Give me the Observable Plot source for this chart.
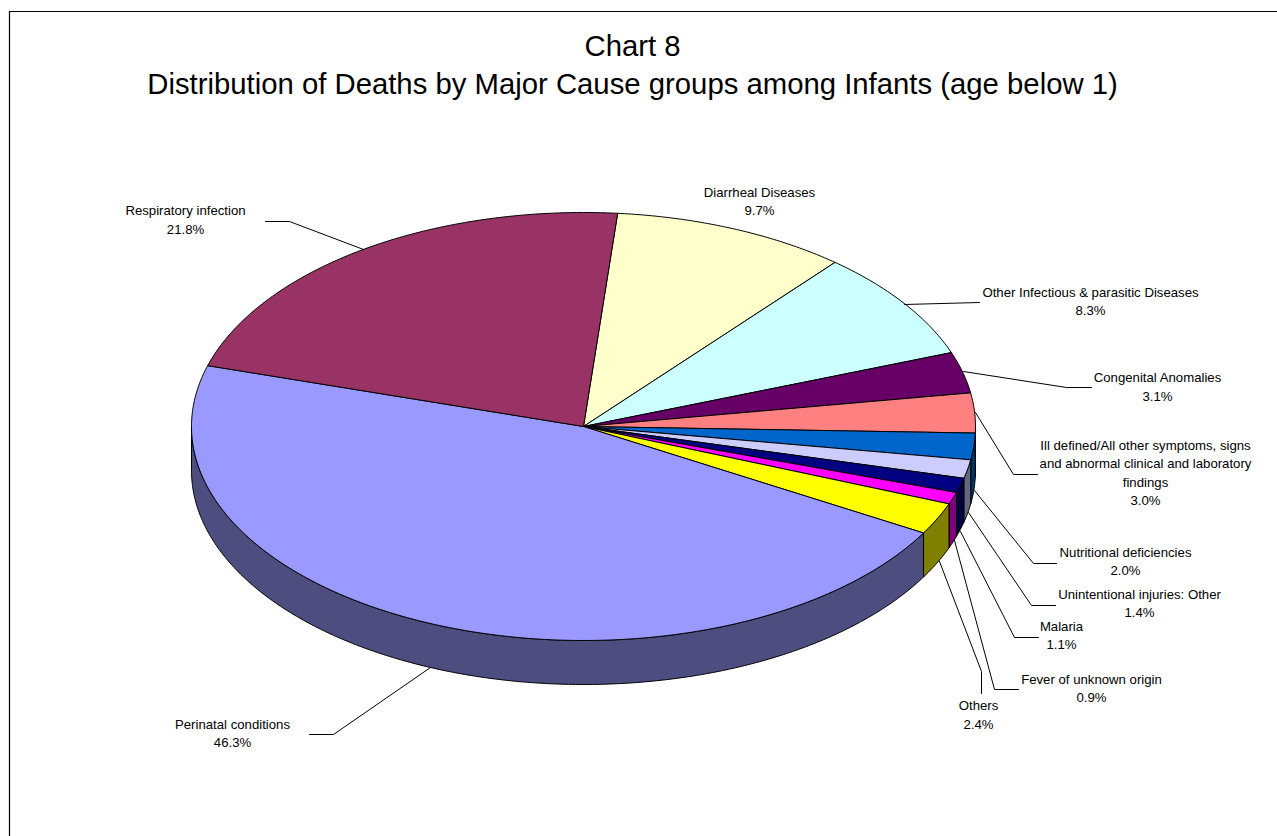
<!DOCTYPE html>
<html>
<head>
<meta charset="utf-8">
<script src="https://cdn.jsdelivr.net/npm/d3@7"></script>
<script src="https://cdn.jsdelivr.net/npm/@observablehq/plot@0.6"></script>
<style>
html,body{margin:0;padding:0;background:#fff;overflow:hidden}
svg{display:block}
</style>
</head>
<body>
<div id="chart"></div>
<script>
// Data
const causes = ["Diarrheal Diseases","Other Infectious & parasitic Diseases","Congenital Anomalies","Ill defined/All other symptoms, signs\nand abnormal clinical and laboratory\nfindings","Nutritional deficiencies","Unintentional injuries: Other","Malaria","Fever of unknown origin","Others","Perinatal conditions","Respiratory infection"];
const shares = [9.7,8.3,3.1,3.0,2.0,1.4,1.1,0.9,2.4,46.3,21.8];
const colors = ["#FFFFCC","#CCFFFF","#660066","#FF8080","#0066CC","#CCCCFF","#000080","#FF00FF","#FFFF00","#9999FF","#993366"];
const titleLines = ["Chart 8","Distribution of Deaths by Major Cause groups among Infants (age below 1)"];

// Layout of the pie, in the coordinate system of the x and y scales
const W = 1277, H = 836;
const pie = {cx:583, cy:426, rx:392, ry:214, depth:44, startDeg:5};
const labelX = [759,1090,1157,1145,1125,1139,1061,1091,978,232,185];
const labelY = [199.5,299.5,385,471,559.5,601.5,633.5,686.5,713,731.5,218];
const leaders = [
  [],
  [[904,304],[979,302]],
  [[963,371],[1066,387],[1091,387]],
  [[975,412],[1013,474],[1037,474]],
  [[974,490],[1033,563],[1056,563]],
  [[968,512],[1031,605],[1055,605]],
  [[960,531],[1014,637],[1038,637]],
  [[954,540],[994,689],[1018,689]],
  [[939,561],[981,671],[981,693]],
  [[430,667],[333,734],[309,734]],
  [[363,249],[289,221],[265,221]]
];

const rad = d => d * Math.PI / 180;
const rim = (deg, drop = 0) => [pie.cx + pie.rx * Math.sin(rad(deg)), pie.cy - pie.ry * Math.cos(rad(deg)) + drop];
const arc = (a0, a1, drop = 0) => {
  const n = Math.max(1, Math.ceil((a1 - a0) * 2));
  return d3.range(n + 1).map(i => rim(a0 + (a1 - a0) * i / n, drop));
};

// Slice angles follow the values
let cum = 0;
const slices = shares.map((v, i) => {
  const a0 = pie.startDeg + cum * 3.6; cum += v;
  return {i, a0, a1: pie.startDeg + cum * 3.6};
});

const tops = slices.flatMap(s => {
  const pts = [[pie.cx, pie.cy], ...arc(s.a0, s.a1), [pie.cx, pie.cy]];
  return pts.map(([x, y]) => ({x, y, id: s.i, fill: colors[s.i]}));
});
const sideFill = c => { const r = d3.rgb(c); return d3.rgb(Math.round(r.r/2), Math.round(r.g/2), Math.round(r.b/2)).formatHex(); };
const sides = slices.flatMap(s => {
  const a0 = Math.max(s.a0, 90), a1 = Math.min(s.a1, 270);
  if (a1 <= a0) return [];
  const up = arc(a0, a1), down = arc(a0, a1, pie.depth).reverse();
  return [...up, ...down, up[0]].map(([x, y]) => ({x, y, id: s.i, fill: sideFill(colors[s.i])}));
});
const leaderPts = leaders.flatMap((p, i) => p.map(([x, y]) => ({x, y, id: i})));
const labels = causes.map((c, i) => ({x: labelX[i], y: labelY[i], text: `${c}\n${shares[i].toFixed(1)}%`}));

const font = "'Liberation Sans', Arial, sans-serif";
const chart = Plot.plot({
  width: W, height: H,
  margin: 0,
  x: {domain: [0, W], range: [0, W], axis: null},
  y: {domain: [0, H], range: [0, H], axis: null},
  color: {type: "identity"},
  style: {fontFamily: font, background: "#fff", color: "#000"},
  marks: [
    Plot.ruleX([9], {y1: 11, y2: H, stroke: "#000", strokeWidth: 1.2}),
    Plot.ruleY([11], {x1: 9, x2: W, stroke: "#000", strokeWidth: 1.2}),
    Plot.line(sides, {x: "x", y: "y", z: "id", fill: "fill", stroke: "#000", strokeWidth: 1, curve: "linear"}),
    Plot.line(tops, {x: "x", y: "y", z: "id", fill: "fill", stroke: "#000", strokeWidth: 1, curve: "linear"}),
    Plot.line(leaderPts, {x: "x", y: "y", z: "id", stroke: "#000", strokeWidth: 1, curve: "linear"}),
    Plot.text(labels, {x: "x", y: "y", text: "text", fontSize: 13.2, lineHeight: 1.4, textAnchor: "middle", lineAnchor: "middle", fill: "#000"}),
    Plot.text(titleLines.map((t, i) => ({t, i})), {x: () => 632, y: d => 46 + d.i * 38, text: "t", fontSize: 29.3, textAnchor: "middle", lineAnchor: "middle", fill: "#000"})
  ]
});
document.getElementById("chart").append(chart);
</script>
</body>
</html>
